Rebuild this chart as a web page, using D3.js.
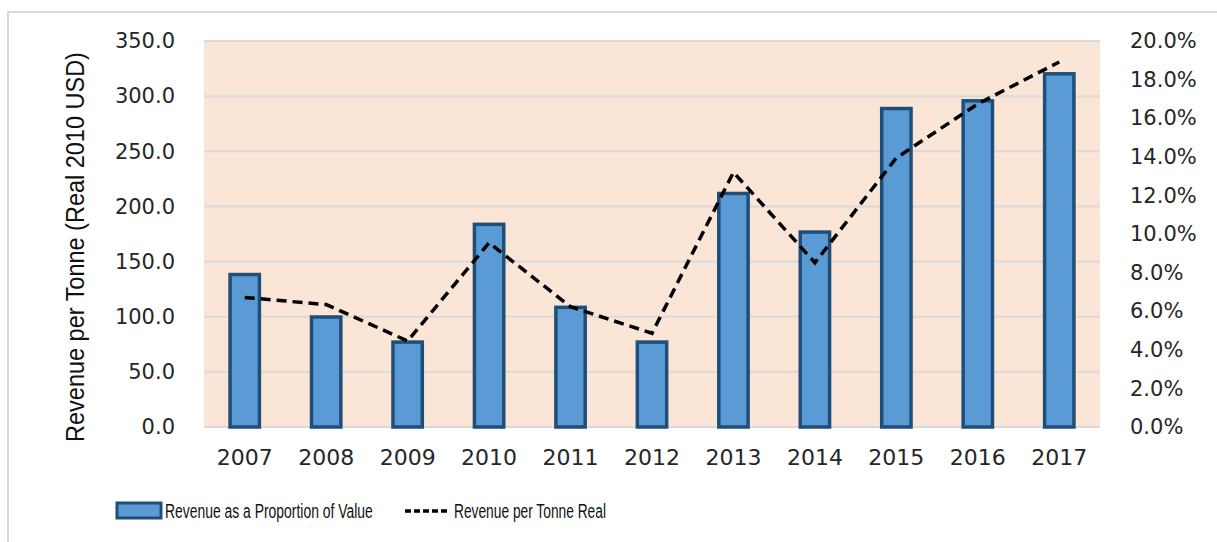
<!DOCTYPE html>
<html>
<head>
<meta charset="utf-8">
<script src="https://cdn.jsdelivr.net/npm/d3@7"></script>
<style>
  body { margin: 0; background: #fff; }
  .tick-lbl { font-family: "DejaVu Sans", Verdana, sans-serif; fill: #262626; }
  .narrow { font-family: "Liberation Sans Narrow", "Arial Narrow", "Liberation Sans", sans-serif; fill: #111; }
</style>
</head>
<body>
<div id="chart"></div>
<script>
const years = ["2007", "2008", "2009", "2010", "2011", "2012", "2013", "2014", "2015", "2016", "2017"];
// bars: revenue as a proportion of value (right axis, %)
const proportion = [7.9, 5.7, 4.4, 10.5, 6.2, 4.4, 12.1, 10.1, 16.5, 16.9, 18.3];
// dashed line: revenue per tonne, real 2010 USD (left axis)
const perTonne = [117.5, 111, 78, 167, 109, 85, 231, 149, 244, 293, 331];
const leftTicks = [0, 50, 100, 150, 200, 250, 300, 350];
const rightTicks = [0, 2, 4, 6, 8, 10, 12, 14, 16, 18, 20];
const barLabel = "Revenue as a Proportion of Value";
const lineLabel = "Revenue per Tonne Real";
const yTitle = "Revenue per Tonne (Real 2010 USD)";

const W = 1217, H = 542;
const plot = {left: 204, right: 1100, top: 41, bottom: 427};

const svg = d3.select("#chart").append("svg")
  .attr("width", W).attr("height", H);

// squeeze a text horizontally so it spans `target` px (condensed look)
function squeeze(t, px, py, target, rot) {
  const w = t.node().getComputedTextLength();
  const sx = target / w;
  t.attr("transform", "translate(" + px + "," + py + ")" + (rot ? " rotate(" + rot + ")" : "") + " scale(" + sx + ",1)");
}

// outer frame
svg.append("rect")
  .attr("x", 8).attr("y", 12)
  .attr("width", W).attr("height", H)
  .attr("fill", "none").attr("stroke", "#d9d9d9").attr("stroke-width", 2);

const x = d3.scaleBand().domain(years)
  .range([plot.left, plot.right])
  .paddingInner(0.64).paddingOuter(0.32);
const yL = d3.scaleLinear().domain([0, 350]).range([plot.bottom, plot.top]);
const yR = d3.scaleLinear().domain([0, 20]).range([plot.bottom, plot.top]);

// plot background
svg.append("rect")
  .attr("x", plot.left).attr("y", plot.top)
  .attr("width", plot.right - plot.left).attr("height", plot.bottom - plot.top)
  .attr("fill", "#fbe5d6");

// gridlines
svg.append("g").selectAll("line")
  .data(leftTicks).enter().append("line")
  .attr("x1", plot.left).attr("x2", plot.right)
  .attr("y1", d => yL(d)).attr("y2", d => yL(d))
  .attr("stroke", "#d9d9d9").attr("stroke-width", 2);

// left axis
const axL = svg.append("g")
  .attr("transform", "translate(" + (plot.left - 29) + ",0)")
  .call(d3.axisLeft(yL).tickValues(leftTicks).tickFormat(d3.format(".1f")).tickSize(0).tickPadding(0));
axL.select(".domain").remove();
axL.selectAll("text").attr("class", "tick-lbl").attr("font-size", 21).attr("fill", "#262626");

// right axis
const axR = svg.append("g")
  .attr("transform", "translate(" + (plot.right + 30) + ",0)")
  .call(d3.axisRight(yR).tickValues(rightTicks).tickFormat(d => d.toFixed(1) + "%").tickSize(0).tickPadding(0));
axR.select(".domain").remove();
axR.selectAll("text").attr("class", "tick-lbl").attr("font-size", 21).attr("fill", "#262626");

// x axis
const axX = svg.append("g")
  .attr("transform", "translate(0," + plot.bottom + ")")
  .call(d3.axisBottom(x).tickSize(0).tickPadding(22));
axX.select(".domain").remove();
axX.selectAll("text").attr("class", "tick-lbl").attr("font-size", 22).attr("fill", "#262626");

// bars
svg.append("g").selectAll("rect")
  .data(years).enter().append("rect")
  .attr("x", d => x(d))
  .attr("y", (d, i) => yR(proportion[i]))
  .attr("width", x.bandwidth())
  .attr("height", (d, i) => yR(0) - yR(proportion[i]))
  .attr("fill", "#5b9bd5")
  .attr("stroke", "#1f4e79").attr("stroke-width", 3.5);

// line
const line = d3.line()
  .x((d, i) => x(years[i]) + x.bandwidth() / 2)
  .y(d => yL(d));
svg.append("path")
  .datum(perTonne)
  .attr("d", line)
  .attr("fill", "none").attr("stroke", "#000")
  .attr("stroke-width", 3.5).attr("stroke-dasharray", "10,6");

// y title
const title = svg.append("text")
  .attr("class", "narrow")
  .attr("text-anchor", "middle")
  .attr("font-size", 26)
  .text(yTitle);
squeeze(title, 84, 247, 390, -90);

// legend
const lg = svg.append("g").attr("transform", "translate(0,510)");
lg.append("rect")
  .attr("x", 117).attr("y", -7).attr("width", 44).attr("height", 15)
  .attr("fill", "#5b9bd5").attr("stroke", "#1f4e79").attr("stroke-width", 3);
const t1 = lg.append("text").attr("class", "narrow")
  .attr("font-size", 21)
  .text(barLabel);
squeeze(t1, 165, 8, 208);
lg.append("line")
  .attr("x1", 405).attr("x2", 450).attr("y1", 1).attr("y2", 1)
  .attr("stroke", "#000").attr("stroke-width", 3.5).attr("stroke-dasharray", "6,3");
const t2 = lg.append("text").attr("class", "narrow")
  .attr("font-size", 21)
  .text(lineLabel);
squeeze(t2, 454, 8, 152);
</script>
</body>
</html>
